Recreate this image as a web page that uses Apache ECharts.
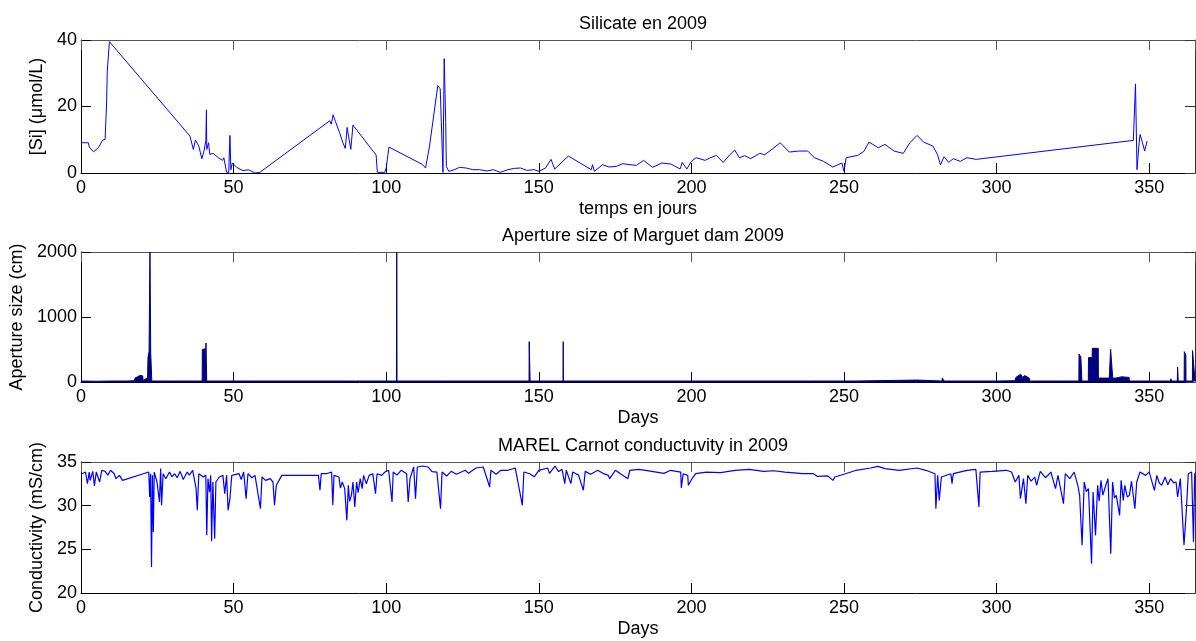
<!DOCTYPE html>
<html><head><meta charset="utf-8">
<script src="https://cdn.jsdelivr.net/npm/echarts@6/dist/echarts.min.js"></script>
<style>html,body{margin:0;padding:0;background:#fff}#c{width:1196px;height:641px}</style>
</head><body><div id="c"></div>
<script>
// ---------- DATA ----------
const titles = ['Silicate en 2009', 'Aperture size of Marguet dam 2009', 'MAREL Carnot conductuvity in 2009'];
const xNames = ['temps en jours', 'Days', 'Days'];
const yNames = ['[Si] (\u03BCmol/L)', 'Aperture size (cm)', 'Conductivity (mS/cm)'];
const xRange = [0, 365, 50];
const yRanges = [[0, 40, 20], [0, 2000, 1000], [20, 35, 5]];

const siDays = [0.2,2.4,2.7,4.1,5.7,7.1,7.9,8.4,8.6,9.3,35.7,36.8,37.5,38.6,39.6,40.3,40.9,41.1,41.2,41.8,42.2,43.3,45,46.4,46.8,47.7,48.4,48.8,49.1,49.6,51,53.1,54.8,55.9,57,58.6,81.5,82,82.6,83.4,84.7,85.8,86.6,87.2,87.7,88.4,89.1,96.7,97.1,99.5,100,100.9,111.8,112.9,114.2,116.9,117.7,118.6,119,119.3,119.5,119.7,120.5,122.4,124,126.2,128.4,130.6,133,135.1,137.3,139.9,142,144,146,148.5,150,152.2,154,154.5,155.2,159.7,167.2,167.6,168.2,170.9,173,175.4,177.5,179.9,182,184.3,187.3,190.3,193.3,196.3,197,198.5,200,201.5,204.5,206,208.2,210.4,212.7,214.2,215.7,217.5,219.4,222.4,224,226.1,229.1,232.1,235.1,238.1,240.3,243.3,246.3,249.3,250,250.7,254.5,256.5,258.2,261.2,263.4,266.4,269.4,271.6,273.9,276.1,279.1,280.6,281.6,282.8,284.3,285.8,288.1,290.3,293.3,344.8,345.5,346,346.6,347,347.8,348.5,349.3];
const siValues = [9.1,9.1,7.8,6.4,7.6,9.9,10.1,21.3,30.4,39.5,11.1,7.1,9.9,8.1,4.3,6.6,9.8,19,7.1,9.1,5.6,5.9,4.6,3.8,4.6,0.2,0.2,11.3,1,3,1.7,0.7,1,0.5,0,0.2,15.7,14.7,17.5,15.4,12.2,9.1,7.4,13.7,13.7,7.1,14.4,5.4,0.2,0.2,1.5,7.8,2.6,1.5,8.1,26.3,25.3,0.2,34.4,34.4,15.2,2,0.5,1,1.7,1.5,1,1,0.6,1,0.2,1,1.4,1.5,0.8,1,0.5,1.5,4.1,4.3,1.2,5.1,1,2.5,0.5,2.5,1.8,2,2.8,2.5,2.3,3.8,1.7,3,2.7,1.2,3.2,1.2,3.5,4.6,3.8,4.5,5.3,3.2,5.6,6.9,4.6,5.2,4.3,5.9,5.5,6.9,9.1,6.3,6.6,6.6,4.6,3.5,1.8,3,0.5,4.6,5.3,6.5,9.3,7.6,8.6,6.6,5.9,9.1,11.3,9.3,8.1,5.6,2.5,4.9,3.2,4.3,3.5,4.6,4.1,9.8,26.8,1,8.1,11.6,9.1,6.6,9.6];

const apDays = [0,5,10,15,17.5,17.7,18.2,18.5,19,19.3,20.2,20.4,21,21.5,21.8,21.95,22.3,22.5,22.6,22.75,22.85,23.1,23.2,30,39.7,39.75,40.6,40.7,40.9,40.95,41.15,41.2,50,57.2,57.3,57.4,68.8,68.9,69.3,69.4,86.9,87,87.2,88.5,88.6,88.8,94.7,94.8,95,103.35,103.45,103.55,120,146.8,146.85,147.1,147.15,157.95,158,158.05,200,238.4,238.5,238.6,253.7,253.8,253.9,274,282.1,282.2,282.5,282.8,300,306,306.3,307.9,308.5,309.2,310.7,310.8,321.5,321.6,321.8,326.95,327,327.5,327.6,327.9,327.95,330.05,330.1,331.3,331.35,333.3,333.35,336.9,337.3,337.35,338,338.05,339,339.2,341,343.4,343.5,357,357.1,357.3,359.2,359.3,359.5,361.45,361.5,361.7,362,362.05,364.15,364.2,364.8,365];
const apValues = [15,12,15,15,20,60,40,80,60,100,95,20,30,60,20,380,470,470,2000,2000,440,440,15,15,15,500,510,100,100,600,600,15,15,15,45,15,15,45,40,15,15,45,15,15,45,15,15,45,15,15,2000,15,15,15,620,620,15,15,620,15,15,15,30,15,15,30,15,30,15,60,40,15,15,20,70,120,70,100,60,15,15,40,15,15,432,432,380,380,15,15,375,375,518,518,60,60,60,503,503,60,60,90,80,70,15,15,50,15,15,230,15,15,467,467,415,15,15,483,483,15];

const coDays = [0.35,1.5,2.1,2.7,3.0,3.85,4.4,5.0,6.1,6.8,7.9,8.8,9.7,10.9,11.4,12.6,13.6,22.2,22.5,22.8,23.1,23.4,23.7,24.0,24.9,25.7,26.1,26.4,26.9,27.8,28.4,29.0,29.8,30.7,31.5,32.5,33.5,34.8,35.5,36.6,37.7,38.1,38.6,40.1,40.9,41.2,41.6,42.1,42.5,42.8,43.2,43.8,44.2,45.3,46.5,47.1,47.7,48.2,48.8,49.4,50.0,51.8,52.5,53.3,54.1,54.7,56.0,57.0,58.8,59.3,60.5,61.1,62.0,62.9,63.4,64.0,65.8,77.8,78.3,78.7,80.4,82.1,82.5,82.9,84.5,85.0,85.6,86.4,87.1,87.6,88.0,88.6,89.1,89.7,90.3,90.8,91.5,92.1,92.6,93.5,94.4,95.6,96.5,97.0,98.5,99.6,100.8,101.9,102.3,103.5,104.9,106.7,107.2,107.8,109.0,109.6,110.2,111.9,113.7,115.0,116.6,117.8,118.3,119.8,121.3,123.0,125.9,127.0,129.4,131.8,133.9,134.3,136.0,137.6,139.9,142.3,144.6,145.1,147.0,148.5,150.0,152.9,153.5,155.3,156.5,157.6,158.5,159.0,160.5,161.1,163.0,164.6,165.2,167.0,169.3,171.0,172.8,173.2,175.1,177.0,179.2,179.8,182.7,185.0,188.5,191.0,193.2,196.5,196.7,197.3,198.8,199.0,200.2,201.4,204.9,209.6,214.3,218.9,223.6,227.0,230.6,236.5,240.0,241.2,244.7,246.4,247.0,250.5,254.0,258.7,261.1,263.4,268.1,273.9,276.8,279.8,280.1,280.7,281.2,281.9,285.0,285.4,285.8,290.3,293.2,294.2,294.6,298.5,303.2,304.9,306.1,307.3,307.8,308.8,309.6,310.2,311.3,312.5,313.1,314.3,316.0,317.8,319.3,320.1,321.9,322.5,324.0,325.4,326.6,327.2,328.0,328.7,329.4,330.1,331.1,331.6,332.4,333.1,333.6,334.2,334.8,335.4,336.0,336.5,337.4,338.0,338.6,339.2,340.3,340.8,341.5,342.0,342.8,343.5,344.2,345.3,345.9,347.0,347.6,348.8,350.0,351.7,352.5,353.3,354.1,355.2,356.1,357.0,358.0,358.8,359.3,360.2,361.4,362.2,362.8,363.9,364.5,364.9];
const coValues = [33.66,33.85,32.52,33.85,32.9,33.93,32.25,33.85,32.71,34.05,33.93,33.5,34.05,33.66,33.09,33.47,32.9,33.85,30.99,33.66,22.98,33.47,26.98,33.85,32.71,30.42,34.24,30.04,33.66,33.09,32.9,33.85,33.3,33.66,33.2,33.93,33.0,33.85,33.5,34.05,31.95,29.47,33.66,33.28,33.47,26.6,33.09,31.56,33.47,25.92,32.71,26.22,32.71,33.28,33.47,31.37,33.47,29.47,30.8,33.47,33.66,33.66,33.0,33.85,30.8,33.66,33.2,33.47,29.66,33.28,32.9,33.09,33.1,32.71,30.04,32.33,33.47,33.47,31.76,33.66,33.66,33.85,30.04,33.47,33.28,32.0,32.71,31.95,28.32,32.33,30.5,31.18,32.71,29.85,32.71,31.5,33.09,31.95,33.47,32.5,33.47,33.66,31.37,33.66,33.47,33.85,34.05,30.42,33.85,33.5,34.05,33.66,30.42,33.09,34.43,30.8,34.43,34.54,34.43,33.9,33.85,29.66,33.85,33.4,33.93,33.6,34.05,33.7,34.31,34.43,32.14,34.05,33.6,34.05,34.05,34.31,30.04,33.85,33.66,33.3,34.05,34.31,33.7,34.54,33.9,34.16,32.52,34.05,32.52,33.85,33.5,31.76,33.93,33.6,34.05,33.7,33.47,33.09,34.05,33.6,33.09,34.05,34.16,34.05,33.85,33.7,34.05,33.85,32.02,33.66,33.47,32.33,33.09,33.66,33.85,33.78,34.05,34.16,33.93,34.0,33.85,33.66,33.66,33.36,33.4,32.9,33.28,33.66,34.05,34.31,34.5,34.24,34.05,34.31,34.05,33.66,29.66,33.47,30.61,33.28,33.66,32.52,33.66,34.05,34.16,29.85,33.85,33.93,34.05,33.85,32.71,33.47,30.8,33.09,30.23,33.47,32.8,33.28,32.33,33.93,33.2,33.85,31.95,33.47,30.23,33.66,33.1,33.85,32.33,31.18,25.46,32.71,31.6,31.95,23.36,31.56,26.6,32.33,30.5,32.9,31.2,31.18,32.6,33.09,24.5,32.71,30.9,31.18,28.89,32.9,30.6,32.33,31.0,31.18,32.8,29.66,32.71,33.85,34.05,33.47,33.85,31.76,33.47,32.6,32.33,33.28,32.4,33.09,32.6,32.71,30.99,33.09,25.46,29.66,33.66,33.85,25.84,33.7];

// ---------- CHART ----------
const FONT = 'Liberation Sans, Arial, Helvetica, sans-serif';
const gridTops = [40, 252, 462];
const gridHeights = [133, 130, 131];
const chart = echarts.init(document.getElementById('c'));

const grids = [], xAxes = [], yAxes = [], titleArr = [];
for (let i = 0; i < 3; i++) {
  grids.push({left: 81, width: 1114, top: gridTops[i], height: gridHeights[i], containLabel: false, outerBoundsMode: 'none'});
  titleArr.push({text: titles[i], left: 638, textAlign: 'center', top: gridTops[i] - 30,
    textStyle: {fontFamily: FONT, fontSize: 18, fontWeight: 'normal', color: '#000'}});
  const common = {gridIndex: i, type: 'value', splitLine: {show: false}};
  xAxes.push(Object.assign({}, common, {
    position: 'bottom', min: xRange[0], max: xRange[1], interval: xRange[2],
    axisLine: {onZero: false, lineStyle: {color: '#000', width: 1}},
    axisTick: {inside: true, length: 10, lineStyle: {color: '#000'}},
    axisLabel: {showMaxLabel: false, fontFamily: FONT, fontSize: 18, color: '#000', margin: 6,
      formatter: v => String(v)},
    name: xNames[i], nameLocation: 'middle', nameGap: 27,
    nameTextStyle: {fontFamily: FONT, fontSize: 18, color: '#000'}
  }));
  xAxes.push(Object.assign({}, common, {
    position: 'top', min: xRange[0], max: xRange[1], interval: xRange[2],
    axisLine: {onZero: false, lineStyle: {color: '#555', width: 1}},
    axisTick: {inside: true, length: 10, lineStyle: {color: '#555'}},
    axisLabel: {show: false}
  }));
  const yr = yRanges[i];
  yAxes.push(Object.assign({}, common, {
    position: 'left', min: yr[0], max: yr[1], interval: yr[2],
    axisLine: {show: true, onZero: false, lineStyle: {color: '#000', width: 1}},
    axisTick: {show: true, inside: true, length: 10, lineStyle: {color: '#000'}},
    axisLabel: {fontFamily: FONT, fontSize: 18, color: '#000', margin: 4, formatter: v => String(v)},
    name: yNames[i], nameLocation: 'middle', nameRotate: 90, nameGap: i === 1 ? 51 : 30,
    nameTextStyle: {fontFamily: FONT, fontSize: 18, color: '#000'}
  }));
  yAxes.push(Object.assign({}, common, {
    position: 'right', min: yr[0], max: yr[1], interval: yr[2],
    axisLine: {show: true, onZero: false, lineStyle: {color: '#333', width: 1}},
    axisTick: {show: true, inside: true, length: 10, lineStyle: {color: '#333'}},
    axisLabel: {show: false}
  }));
}

const pairs = (xs, ys) => xs.map((d, k) => [d, ys[k]]);

chart.setOption({
  animation: false,
  backgroundColor: '#fff',
  title: titleArr,
  grid: grids,
  xAxis: xAxes,
  yAxis: yAxes,
  series: [
    {type: 'line', xAxisIndex: 0, yAxisIndex: 0, data: pairs(siDays, siValues), showSymbol: false,
     lineStyle: {color: '#0000ff', width: 1}, itemStyle: {color: '#0000ff'}, clip: true},
    {type: 'line', xAxisIndex: 2, yAxisIndex: 2, data: pairs(apDays, apValues), showSymbol: false,
     lineStyle: {color: '#000080', width: 1}, itemStyle: {color: '#000080'},
     areaStyle: {color: '#000080', opacity: 1}, clip: true},
    {type: 'line', xAxisIndex: 4, yAxisIndex: 4, data: pairs(coDays, coValues), showSymbol: false,
     lineStyle: {color: '#0000ff', width: 1.2}, itemStyle: {color: '#0000ff'}, clip: true}
  ]
});
</script></body></html>
